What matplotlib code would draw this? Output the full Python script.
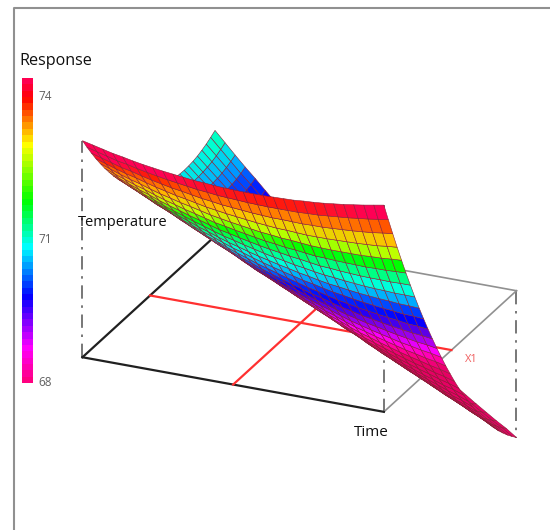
#!/usr/bin/env python3
import numpy as np
import matplotlib
matplotlib.use("Agg")
import matplotlib.pyplot as plt
from matplotlib.colors import LinearSegmentedColormap, Normalize
from matplotlib.cm import ScalarMappable

plt.rcParams['font.family'] = ['Open Sans', 'DejaVu Sans']

# estimated from the edge heights and the colour bands of the picture
time_pos = [j / 30 for j in range(31)]
temp_pos = [i / 30 for i in range(31)]
response = [
    [74.73, 74.65, 74.57, 74.49, 74.43, 74.36, 74.30, 74.25, 74.20, 74.16, 74.12, 74.08, 74.06, 74.03, 74.01, 74.00, 73.99, 73.99, 73.99, 74.00, 74.01, 74.02, 74.05, 74.07, 74.10, 74.14, 74.18, 74.23, 74.28, 74.34, 74.40],
    [74.38, 74.29, 74.20, 74.11, 74.05, 73.97, 73.90, 73.84, 73.78, 73.73, 73.68, 73.63, 73.60, 73.56, 73.54, 73.52, 73.50, 73.49, 73.48, 73.48, 73.48, 73.48, 73.50, 73.51, 73.54, 73.57, 73.60, 73.64, 73.68, 73.73, 73.78],
    [74.05, 73.95, 73.85, 73.75, 73.68, 73.59, 73.51, 73.44, 73.37, 73.32, 73.26, 73.20, 73.16, 73.11, 73.08, 73.05, 73.02, 73.00, 72.98, 72.98, 72.97, 72.96, 72.97, 72.97, 72.99, 73.01, 73.03, 73.06, 73.09, 73.14, 73.18],
    [73.73, 73.62, 73.51, 73.41, 73.33, 73.23, 73.14, 73.06, 72.98, 72.92, 72.85, 72.78, 72.73, 72.68, 72.64, 72.60, 72.56, 72.53, 72.50, 72.49, 72.47, 72.45, 72.45, 72.45, 72.46, 72.47, 72.48, 72.50, 72.52, 72.56, 72.59],
    [73.43, 73.31, 73.19, 73.08, 72.99, 72.88, 72.78, 72.70, 72.61, 72.54, 72.46, 72.38, 72.32, 72.26, 72.21, 72.16, 72.11, 72.08, 72.04, 72.02, 71.99, 71.96, 71.95, 71.94, 71.94, 71.94, 71.94, 71.96, 71.97, 72.00, 72.02],
    [73.14, 73.01, 72.89, 72.77, 72.67, 72.55, 72.44, 72.35, 72.25, 72.17, 72.08, 71.99, 71.93, 71.86, 71.80, 71.74, 71.68, 71.64, 71.59, 71.56, 71.52, 71.48, 71.47, 71.45, 71.44, 71.43, 71.42, 71.43, 71.43, 71.45, 71.46],
    [72.87, 72.73, 72.60, 72.47, 72.36, 72.23, 72.12, 72.02, 71.91, 71.82, 71.72, 71.62, 71.55, 71.47, 71.40, 71.33, 71.27, 71.22, 71.16, 71.12, 71.07, 71.02, 71.00, 70.97, 70.95, 70.93, 70.92, 70.92, 70.91, 70.92, 70.92],
    [72.61, 72.47, 72.33, 72.19, 72.07, 71.93, 71.81, 71.70, 71.58, 71.48, 71.37, 71.27, 71.19, 71.10, 71.02, 70.94, 70.87, 70.81, 70.74, 70.69, 70.63, 70.58, 70.55, 70.51, 70.48, 70.45, 70.43, 70.42, 70.40, 70.40, 70.39],
    [72.37, 72.22, 72.07, 71.92, 71.79, 71.65, 71.52, 71.40, 71.27, 71.16, 71.04, 70.93, 70.84, 70.74, 70.65, 70.57, 70.49, 70.42, 70.34, 70.28, 70.21, 70.15, 70.11, 70.06, 70.02, 69.99, 69.96, 69.94, 69.91, 69.90, 69.88],
    [72.15, 71.99, 71.83, 71.67, 71.53, 71.38, 71.24, 71.11, 70.97, 70.86, 70.73, 70.61, 70.51, 70.40, 70.30, 70.21, 70.12, 70.04, 69.95, 69.89, 69.81, 69.74, 69.69, 69.63, 69.58, 69.54, 69.50, 69.47, 69.43, 69.42, 69.39],
    [71.94, 71.77, 71.60, 71.43, 71.29, 71.13, 70.98, 70.84, 70.69, 70.57, 70.43, 70.30, 70.19, 70.07, 69.97, 69.87, 69.77, 69.68, 69.58, 69.51, 69.42, 69.34, 69.28, 69.21, 69.16, 69.11, 69.06, 69.02, 68.97, 68.95, 68.91],
    [71.75, 71.57, 71.39, 71.21, 71.06, 70.89, 70.73, 70.58, 70.43, 70.30, 70.15, 70.01, 69.89, 69.76, 69.65, 69.54, 69.43, 69.33, 69.23, 69.15, 69.05, 68.96, 68.89, 68.81, 68.75, 68.69, 68.63, 68.58, 68.53, 68.50, 68.45],
    [71.57, 71.38, 71.19, 71.01, 70.85, 70.67, 70.50, 70.34, 70.18, 70.04, 69.88, 69.73, 69.60, 69.47, 69.35, 69.23, 69.11, 69.00, 68.89, 68.80, 68.69, 68.59, 68.51, 68.43, 68.36, 68.29, 68.22, 68.16, 68.10, 68.06, 68.00],
    [71.41, 71.21, 71.01, 70.82, 70.65, 70.46, 70.28, 70.12, 69.95, 69.80, 69.63, 69.47, 69.33, 69.19, 69.06, 68.93, 68.80, 68.69, 68.57, 68.47, 68.35, 68.24, 68.15, 68.06, 67.98, 67.90, 67.82, 67.76, 67.69, 67.64, 67.57],
    [71.26, 71.05, 70.85, 70.65, 70.47, 70.27, 70.08, 69.91, 69.73, 69.57, 69.39, 69.22, 69.08, 68.93, 68.79, 68.65, 68.51, 68.39, 68.26, 68.15, 68.02, 67.90, 67.81, 67.71, 67.62, 67.53, 67.44, 67.37, 67.29, 67.23, 67.15],
    [71.13, 70.91, 70.70, 70.49, 70.30, 70.09, 69.90, 69.72, 69.53, 69.36, 69.17, 68.99, 68.84, 68.68, 68.53, 68.38, 68.24, 68.11, 67.97, 67.85, 67.71, 67.58, 67.48, 67.37, 67.27, 67.17, 67.08, 67.00, 66.91, 66.84, 66.75],
    [71.01, 70.79, 70.57, 70.35, 70.15, 69.93, 69.73, 69.54, 69.34, 69.16, 68.96, 68.78, 68.62, 68.45, 68.29, 68.13, 67.98, 67.84, 67.69, 67.56, 67.41, 67.28, 67.17, 67.05, 66.94, 66.83, 66.73, 66.64, 66.54, 66.46, 66.36],
    [70.91, 70.68, 70.45, 70.22, 70.01, 69.79, 69.58, 69.38, 69.17, 68.98, 68.77, 68.58, 68.41, 68.23, 68.06, 67.90, 67.74, 67.59, 67.43, 67.29, 67.13, 66.99, 66.87, 66.74, 66.62, 66.51, 66.40, 66.30, 66.19, 66.10, 65.99],
    [70.83, 70.59, 70.35, 70.11, 69.89, 69.66, 69.44, 69.23, 69.01, 68.82, 68.60, 68.40, 68.22, 68.03, 67.85, 67.68, 67.51, 67.35, 67.18, 67.04, 66.87, 66.72, 66.59, 66.45, 66.32, 66.20, 66.08, 65.97, 65.85, 65.76, 65.64],
    [70.76, 70.51, 70.26, 70.01, 69.79, 69.55, 69.32, 69.10, 68.87, 68.67, 68.44, 68.23, 68.04, 67.84, 67.66, 67.48, 67.30, 67.13, 66.95, 66.80, 66.62, 66.46, 66.32, 66.17, 66.04, 65.91, 65.78, 65.66, 65.53, 65.43, 65.30],
    [70.71, 70.45, 70.19, 69.93, 69.70, 69.45, 69.21, 68.98, 68.75, 68.54, 68.30, 68.08, 67.88, 67.67, 67.48, 67.29, 67.10, 66.92, 66.74, 66.58, 66.39, 66.22, 66.07, 65.91, 65.77, 65.63, 65.49, 65.36, 65.23, 65.12, 64.98],
    [70.67, 70.40, 70.13, 69.87, 69.63, 69.37, 69.12, 68.88, 68.64, 68.42, 68.17, 67.94, 67.73, 67.52, 67.32, 67.12, 66.92, 66.73, 66.54, 66.37, 66.17, 65.99, 65.83, 65.67, 65.52, 65.37, 65.22, 65.08, 64.94, 64.82, 64.67],
    [70.65, 70.37, 70.09, 69.82, 69.57, 69.30, 69.04, 68.80, 68.55, 68.32, 68.06, 67.82, 67.60, 67.38, 67.17, 66.96, 66.75, 66.56, 66.36, 66.18, 65.97, 65.78, 65.61, 65.44, 65.28, 65.12, 64.96, 64.82, 64.67, 64.54, 64.38],
    [70.64, 70.35, 70.07, 69.79, 69.53, 69.25, 68.98, 68.73, 68.47, 68.23, 67.96, 67.71, 67.49, 67.26, 67.04, 66.82, 66.60, 66.40, 66.19, 66.00, 65.78, 65.58, 65.41, 65.23, 65.06, 64.89, 64.72, 64.57, 64.41, 64.27, 64.10],
    [70.65, 70.35, 70.06, 69.77, 69.50, 69.21, 68.94, 68.68, 68.41, 68.16, 67.88, 67.62, 67.39, 67.15, 66.92, 66.69, 66.47, 66.26, 66.04, 65.84, 65.61, 65.40, 65.22, 65.03, 64.85, 64.67, 64.50, 64.34, 64.17, 64.02, 63.84],
    [70.67, 70.37, 70.07, 69.77, 69.49, 69.19, 68.91, 68.64, 68.36, 68.10, 67.81, 67.55, 67.31, 67.06, 66.82, 66.58, 66.35, 66.13, 65.90, 65.69, 65.45, 65.24, 65.05, 64.85, 64.66, 64.47, 64.29, 64.12, 63.94, 63.78, 63.59],
    [70.71, 70.40, 70.09, 69.78, 69.49, 69.19, 68.90, 68.62, 68.33, 68.06, 67.76, 67.49, 67.24, 66.98, 66.73, 66.49, 66.25, 66.02, 65.78, 65.56, 65.31, 65.09, 64.89, 64.68, 64.48, 64.29, 64.10, 63.92, 63.73, 63.56, 63.36],
    [70.77, 70.45, 70.13, 69.81, 69.51, 69.20, 68.90, 68.61, 68.31, 68.04, 67.73, 67.45, 67.19, 66.92, 66.66, 66.41, 66.16, 65.92, 65.67, 65.45, 65.19, 64.96, 64.75, 64.53, 64.32, 64.12, 63.92, 63.73, 63.53, 63.36, 63.15],
    [70.84, 70.51, 70.18, 69.85, 69.55, 69.23, 68.92, 68.62, 68.31, 68.03, 67.71, 67.42, 67.15, 66.87, 66.61, 66.35, 66.09, 65.84, 65.58, 65.35, 65.08, 64.84, 64.62, 64.39, 64.18, 63.97, 63.76, 63.56, 63.35, 63.17, 62.95],
    [70.93, 70.59, 70.25, 69.91, 69.60, 69.27, 68.95, 68.64, 68.33, 68.04, 67.71, 67.41, 67.13, 66.84, 66.57, 66.30, 66.03, 65.77, 65.51, 65.27, 64.99, 64.74, 64.51, 64.27, 64.05, 63.83, 63.61, 63.40, 63.19, 63.00, 62.77],
    [71.03, 70.68, 70.33, 69.99, 69.67, 69.33, 69.00, 68.68, 68.36, 68.06, 67.72, 67.41, 67.12, 66.83, 66.55, 66.27, 65.99, 65.72, 65.45, 65.20, 64.91, 64.65, 64.41, 64.17, 63.94, 63.71, 63.48, 63.26, 63.04, 62.84, 62.60],
]

floor_z = 67.5
scale_ticks = [68, 71, 74]
scale_min = 67.96
scale_max = 74.36

bar_values = [67.96, 68.65, 69.75, 70.81, 71.8, 73.0, 73.5, 74.0, 74.36]
bar_colors = ['#ff0080', '#ff00ff', '#0000ff', '#00ffff', '#00ff00',
              '#ffff00', '#ff8000', '#ff0000', '#ff0050']

# bands on the surface run lower than the bar says, so it gets its own stops
face_values = [66.9, 67.3, 67.8, 68.25, 68.7, 69.2, 69.65, 70.13, 70.65, 71.2,
               71.75, 72.3, 72.9, 73.5, 73.7, 74.0]
face_colors = ['#e60064', '#ff0096', '#ff00ff', '#aa00f0', '#5a00e6', '#0000ff',
               '#003cff', '#00aaff', '#00ffdc', '#00ff82', '#00ff00', '#beff00',
               '#ffbe00', '#ff5000', '#ff1e00', '#ff0055']


def make_cmap(values, colors, n):
    stops = [(v - values[0]) / (values[-1] - values[0]) for v in values]
    return LinearSegmentedColormap.from_list('c', list(zip(stops, colors)), N=n)


bar_cmap = make_cmap(bar_values, bar_colors, 48)
face_cmap = make_cmap(face_values, face_colors, 256)
face_cmap.set_under('#e60064')
face_cmap.set_over('#ff0055')

U, V = np.meshgrid(time_pos, temp_pos)
Z = np.array(response)

fig = plt.figure(figsize=(5.5, 5.3), dpi=100)
W = 500
ax = fig.add_axes([42.7 / 550, -13.3 / 530, W / 550, W / 530], projection='3d', proj_type='ortho')
ax.computed_zorder = False
ax.view_init(elev=24, azim=-66)
ax.set_box_aspect((330, 326, 410), zoom=1.2018)
ax.set_xlim(0, 1, view_margin=0)
ax.set_ylim(0, 1, view_margin=0)
ax.set_zlim(62.5, 75, view_margin=0)
ax.set_axis_off()
ax.patch.set_alpha(0)

dash = (0, (8, 4, 1.5, 4))
ax.plot([0, 0], [0, 0], [floor_z, Z[0, 0]], color='#606060', lw=1.2, ls=dash, zorder=1)
ax.plot([1, 1], [0, 0], [floor_z, Z[0, -1]], color='#606060', lw=1.2, ls=dash, zorder=1)
ax.plot([1, 1], [1, 1], [floor_z, Z[-1, -1]], color='#606060', lw=1.2, ls=dash, zorder=1)
ax.plot([1, 1], [0, 1], [floor_z, floor_z], color='#909090', lw=1.2, zorder=2)
ax.plot([0, 1], [1, 1], [floor_z, floor_z], color='#909090', lw=1.2, zorder=2)
ax.plot([0, 1], [0, 0], [floor_z, floor_z], color='#202020', lw=1.6, zorder=2)
ax.plot([0, 0], [0, 1], [floor_z, floor_z], color='#202020', lw=1.6, zorder=2)
ax.plot([0, 1], [0.51, 0.51], [floor_z, floor_z], color='#ff3030', lw=1.6, zorder=3)
ax.plot([0.5, 0.5], [0, 1], [floor_z, floor_z], color='#ff3030', lw=1.6, zorder=3)

ax.plot_surface(U, V, Z, rstride=1, cstride=1, cmap=face_cmap,
                norm=Normalize(face_values[0], face_values[-1]), shade=False,
                edgecolor='#8a2038', linewidth=0.4, antialiased=True, zorder=5)

bg = fig.add_axes([0, 0, 1, 1], zorder=10)
bg.set_xlim(0, 550)
bg.set_ylim(530, 0)
bg.set_axis_off()
bg.patch.set_alpha(0)
bg.plot([13.5, 13.5, 550], [530, 7.5, 7.5], color='#909090', lw=1.5)
bg.text(19, 61, 'Response', fontsize=11.6, va='center', color='#101010')
bg.text(78, 222, 'Temperature', fontsize=10.5, va='center', color='#101010')
bg.text(371, 433, 'Time', fontsize=11, va='center', ha='center', color='#101010')
bg.text(471, 360, 'X1', fontsize=8, va='center', ha='center', color='#f06060')

cax = fig.add_axes([22 / 550, 1 - 383 / 530, 11 / 550, 305 / 530], zorder=11)
cb = fig.colorbar(ScalarMappable(norm=Normalize(scale_min, scale_max), cmap=bar_cmap),
                  cax=cax, ticks=scale_ticks)
cb.outline.set_visible(False)
cb.ax.tick_params(length=0, labelsize=8.5, labelcolor='#606060', pad=4)

fig.savefig('out.png', dpi=100)
